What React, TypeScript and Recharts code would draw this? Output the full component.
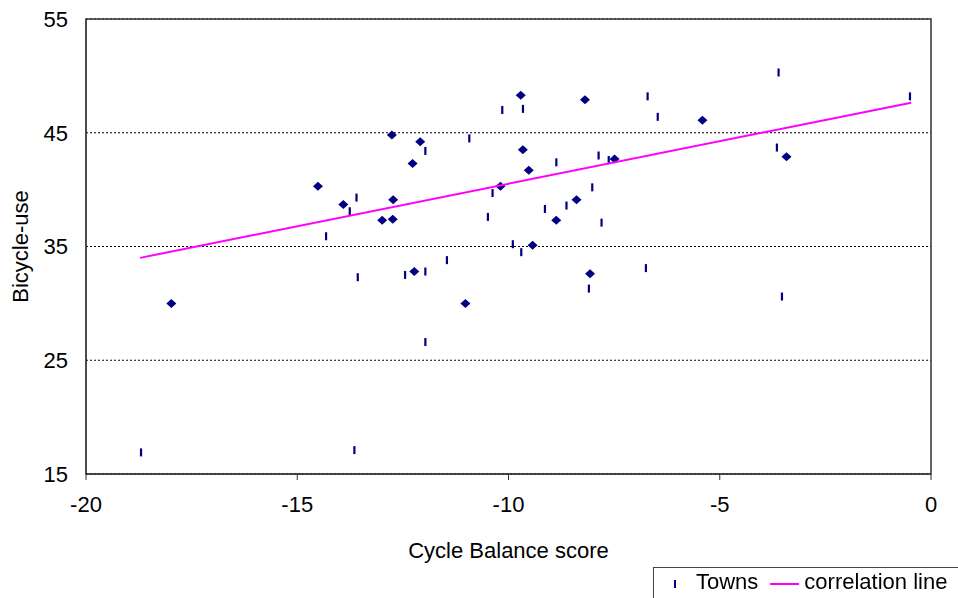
import React from "react";
import {
  ScatterChart,
  Scatter,
  XAxis,
  YAxis,
  CartesianGrid,
  ReferenceArea,
} from "recharts";

// towns drawn as small vertical bars
const townsX = [
  -18.7, -14.32, -13.76, -13.65, -13.6, -13.57, -12.45, -11.97, -11.97, -11.97, -11.46,
  -10.93, -10.49, -10.38, -10.15, -9.9, -9.7, -9.66, -9.14, -8.87, -8.63, -8.1, -8.02,
  -7.87, -7.8, -7.63, -6.75, -6.71, -6.47, -3.65, -3.61, -3.53, -0.5,
];
const townsY = [
  16.9, 35.9, 38.1, 17.1, 39.3, 32.3, 32.5, 43.4, 32.8, 26.6, 33.8,
  44.5, 37.6, 39.7, 47.0, 35.2, 34.5, 47.1, 38.3, 42.4, 38.6, 31.3, 40.2,
  43.0, 37.1, 42.6, 33.1, 48.2, 46.4, 43.7, 50.3, 30.6, 48.2,
];

// points drawn as diamonds
const diamondX = [
  -17.98, -14.51, -13.91, -12.99, -12.76, -12.74, -12.73, -12.27, -12.23, -12.09, -11.02,
  -10.19, -9.71, -9.66, -9.52, -9.43, -8.87, -8.39, -8.19, -8.07, -7.49, -5.41, -3.42,
];
const diamondY = [
  30.0, 40.3, 38.7, 37.3, 44.8, 37.4, 39.1, 42.3, 32.8, 44.2, 30.0,
  40.3, 48.3, 43.5, 41.7, 35.1, 37.3, 39.1, 47.9, 32.6, 42.7, 46.1, 42.9,
];

// correlation line end points
const lineX = [-18.72, -0.47];
const lineY = [34.0, 47.64];

const xTicks = [-20, -15, -10, -5, 0];
const yTicks = [15, 25, 35, 45, 55];

const NAVY = "#000080";
const MAGENTA = "#ff00ff";
const FONT = "'Liberation Sans', Arial, sans-serif";

const zip = (xs: number[], ys: number[]) => xs.map((x, i) => ({ x, y: ys[i] }));

const townsData = zip(townsX, townsY);
const diamondData = zip(diamondX, diamondY);
const lineData = zip(lineX, lineY);

const TickMark = (props: any) => (
  <rect x={props.cx - 1} y={props.cy - 4} width={2.2} height={8} fill={NAVY} />
);

const Diamond = (props: any) => {
  const { cx, cy } = props;
  return (
    <polygon
      points={`${cx - 5},${cy} ${cx},${cy - 4.5} ${cx + 5},${cy} ${cx},${cy + 4.5}`}
      fill={NAVY}
    />
  );
};

export default function App() {
  return (
    <div style={{ position: "fixed", left: 0, top: 0, width: 958, height: 598, background: "#fff", fontFamily: FONT }}>
      <ScatterChart width={958} height={598} margin={{ top: 19, right: 27, left: 16, bottom: 84 }}>
        <CartesianGrid vertical={false} stroke="#000" strokeDasharray="2 2" />
        <XAxis
          type="number"
          dataKey="x"
          domain={[-20, 0]}
          ticks={xTicks}
          height={40}
          tickSize={6}
          tickMargin={16}
          stroke="#333"
          tick={{ fill: "#000", fontSize: 22, fontFamily: FONT }}
          label={{ value: "Cycle Balance score", position: "insideBottom", offset: -44, fill: "#000", fontSize: 22, fontFamily: FONT }}
        />
        <YAxis
          type="number"
          dataKey="y"
          domain={[15, 55]}
          ticks={yTicks}
          width={70}
          tickLine={false}
          tickMargin={12}
          stroke="#333"
          tick={{ fill: "#000", fontSize: 22, fontFamily: FONT }}
          label={{ value: "Bicycle-use", angle: -90, position: "insideLeft", offset: 0, dx: 4, fill: "#000", fontSize: 22, fontFamily: FONT, style: { textAnchor: "middle" } }}
        />
        <ReferenceArea x1={-20} x2={0} y1={15} y2={55} fill="none" stroke="#333" strokeWidth={1.5} ifOverflow="visible" />
        <Scatter data={townsData} shape={TickMark} isAnimationActive={false} />
        <Scatter data={diamondData} shape={Diamond} isAnimationActive={false} />
        <Scatter
          data={lineData}
          line={{ stroke: MAGENTA, strokeWidth: 2 }}
          shape={() => null}
          isAnimationActive={false}
        />
      </ScatterChart>
      <div
        style={{
          position: "absolute",
          left: 653,
          top: 567,
          width: 320,
          height: 40,
          border: "1.5px solid #444",
          boxSizing: "border-box",
          display: "flex",
          alignItems: "flex-start",
          paddingTop: 1,
          fontSize: 22,
          color: "#000",
          whiteSpace: "nowrap",
        }}
      >
        <span style={{ display: "inline-block", width: 2, height: 8, background: NAVY, marginLeft: 20, marginTop: 11 }} />
        <span style={{ marginLeft: 20 }}>Towns</span>
        <span style={{ display: "inline-block", width: 29, height: 2, background: MAGENTA, marginLeft: 12, marginTop: 14 }} />
        <span style={{ marginLeft: 5 }}>correlation line</span>
      </div>
    </div>
  );
}
